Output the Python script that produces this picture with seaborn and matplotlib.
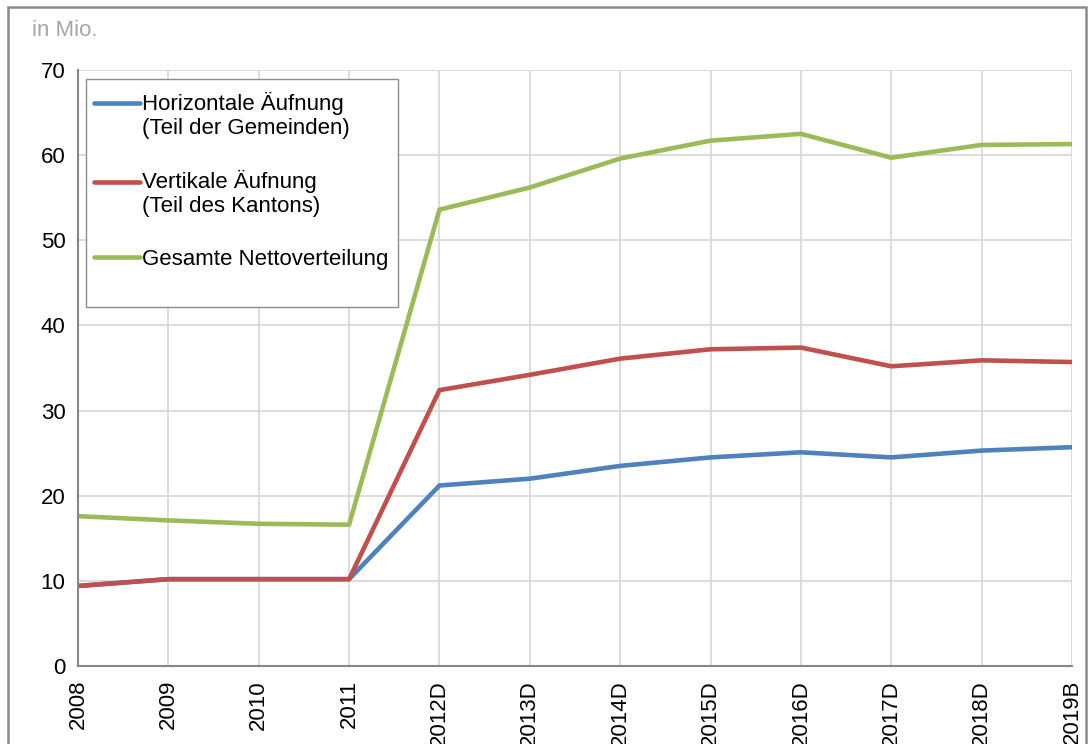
import numpy as np
import pandas as pd
import matplotlib.pyplot as plt
import seaborn as sns
from matplotlib.lines import Line2D
from matplotlib.patches import Rectangle

sns.set_style("white")
plt.rcParams['font.family'] = ['Liberation Sans', 'DejaVu Sans']
plt.rcParams['text.color'] = 'black'

# Daten (in Mio.)
jahre = ['2008', '2009', '2010', '2011', '2012D', '2013D', '2014D',
         '2015D', '2016D', '2017D', '2018D', '2019B']
horizontal = [9.4, 10.2, 10.2, 10.2, 21.2, 22.0, 23.5, 24.5, 25.1, 24.5, 25.3, 25.7]
vertikal = [9.4, 10.2, 10.2, 10.2, 32.4, 34.2, 36.1, 37.2, 37.4, 35.2, 35.9, 35.7]
gesamt = [17.6, 17.1, 16.7, 16.6, 53.6, 56.2, 59.6, 61.7, 62.5, 59.7, 61.2, 61.3]

serien = ['Horizontale Äufnung\n(Teil der Gemeinden)',
          'Vertikale Äufnung\n(Teil des Kantons)',
          'Gesamte Nettoverteilung']
farben = ['#4F81BD', '#C0504D', '#9BBB59']

df = pd.DataFrame({
    'pos': list(range(len(jahre))) * 3,
    'wert': horizontal + vertikal + gesamt,
    'serie': [serien[0]] * 12 + [serien[1]] * 12 + [serien[2]] * 12,
})

fs = 16

fig = plt.figure(figsize=(10.88, 7.44), dpi=100)
ax = fig.add_axes([78 / 1088, 1 - 666 / 744, 994 / 1088, 596 / 744])

sns.lineplot(data=df, x='pos', y='wert', hue='serie', hue_order=serien,
             palette=farben, linewidth=3.3, sort=False, legend=False, ax=ax)

ax.set_xlim(0, len(jahre) - 1)
ax.set_ylim(0, 70)
ax.set_xticks(range(len(jahre)))
ax.set_xticklabels(jahre, rotation=90)
ax.set_yticks(range(0, 71, 10))
ax.set_xlabel('')
ax.set_ylabel('')

ax.set_axisbelow(True)
ax.grid(True, color='#D9D9D9', linewidth=1.3)
for s in ['top', 'right']:
    ax.spines[s].set_visible(False)
for s in ['left', 'bottom']:
    ax.spines[s].set_color('#868686')
    ax.spines[s].set_linewidth(1.5)
ax.tick_params(axis='both', direction='out', length=4, width=1.3, color='#868686',
               labelsize=fs, labelcolor='black', pad=6)
ax.tick_params(axis='y', pad=5)

# Legende
ax.add_patch(Rectangle((0.008, 0.602), 0.314, 0.383, transform=ax.transAxes,
                       facecolor='white', edgecolor='#8C8C8C', linewidth=1.0, zorder=4))
handles = [Line2D([0], [0], color=c, linewidth=3.3) for c in farben]
leg = ax.legend(handles, serien, loc='upper left', bbox_to_anchor=(0.012, 0.971),
                frameon=False, fontsize=fs, handlelength=2.05, handletextpad=0.1,
                labelspacing=1.4, borderaxespad=0, borderpad=0.2, labelcolor='black')
leg.set_zorder(5)
for h in leg.legend_handles[:2]:
    h.set_ydata(np.array(h.get_ydata()) + fs * 0.55)

fig.text(32 / 1088, 1 - 30 / 744, 'in Mio.', fontsize=fs, color='#A6A6A6',
         va='center', ha='left')

# Rahmen
fig.add_artist(Rectangle((8 / 1088, -0.01), 1078 / 1088, 1 - 6.5 / 744 + 0.01,
                         transform=fig.transFigure, fill=False,
                         edgecolor='#898989', linewidth=1.8))

fig.savefig('out.png', dpi=100)
